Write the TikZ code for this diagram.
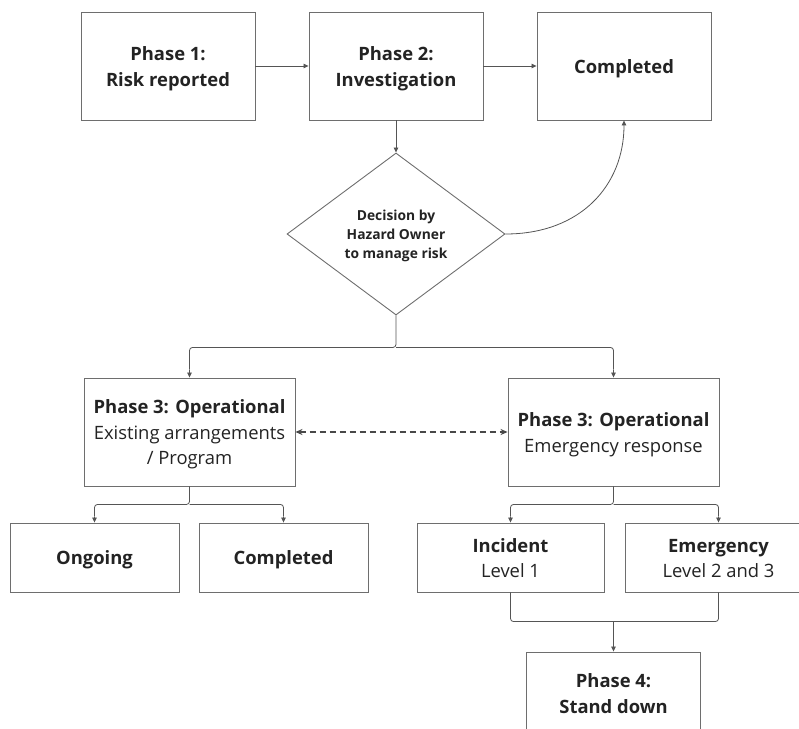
\documentclass[tikz,border=0pt]{standalone}
\usepackage{fontspec}
\setmainfont{Open Sans}
\usetikzlibrary{shapes.geometric,arrows.meta,calc}
\definecolor{boxline}{HTML}{6E6E6E}
\definecolor{conn}{HTML}{555555}
\definecolor{txt}{HTML}{232323}
\begin{document}
\begin{tikzpicture}[x=1pt,y=1pt,
  box/.style={draw=boxline,line width=0.9pt,rectangle,inner sep=0pt,text=txt,align=center,
    font=\fontsize{18.4}{25.5}\selectfont,text depth=0pt},
  oneline/.style={text height=14.6pt},
  twoline/.style={text height=40.1pt},
  threeline/.style={text height=65.6pt},
  bigbox/.style={box,minimum width=174pt,minimum height=108pt},
  opbox/.style={box,minimum width=211pt,minimum height=108pt},
  smallbox/.style={box,minimum height=69pt},
  conn/.style={draw=conn,line width=0.8pt,-{Triangle[length=5pt,width=4.5pt]}},
  junc/.style={draw=conn,line width=0.8pt,rounded corners=3pt},
]
\useasboundingbox (0,0) rectangle (799,-728);
\clip (0,0) rectangle (799,-728);

\node[bigbox,twoline] (p1) at (168,-66) {\textbf{Phase 1:}\\\textbf{Risk reported}};
\node[bigbox,twoline] (p2) at (396,-66) {\textbf{Phase 2:}\\\textbf{Investigation}};
\node[bigbox,oneline] (c1) at (624,-66) {\textbf{Completed}};

\node[diamond,draw=boxline,line width=0.9pt,inner sep=0pt,minimum width=218pt,minimum height=162pt,
  text=txt,align=center,font=\fontsize{13.8}{19}\selectfont\bfseries,
  text height=48pt,text depth=0pt] (dec) at (396,-234)
  {Decision by\\Hazard Owner\\to manage risk};

\node[opbox,threeline] (op1) at (189.5,-432) {\textbf{Phase 3: Operational}\\Existing arrangements\\/ Program};
\node[opbox,twoline] (op2) at (613.5,-432) {\textbf{Phase 3: Operational}\\Emergency response};

\node[smallbox,oneline,minimum width=169pt] (og) at (94.5,-557.5) {\textbf{Ongoing}};
\node[smallbox,oneline,minimum width=169pt] (c2) at (283.5,-557.5) {\textbf{Completed}};
\node[smallbox,twoline,minimum width=187pt] (inc) at (510.5,-557.5) {\textbf{Incident}\\Level 1};
\node[smallbox,twoline,minimum width=187pt] (emg) at (718.5,-557.5) {\textbf{Emergency}\\Level 2 and 3};

\node[bigbox,twoline,minimum height=82pt] (p4) at (613.5,-693) {\textbf{Phase 4:}\\\textbf{Stand down}};

% top row
\draw[conn] (p1.east) -- (p2.west);
\draw[conn] (p2.east) -- (c1.west);
\draw[conn] (p2.south) -- (dec.north);
\draw[conn] (dec.east) .. controls +(75,0) and +(0,-65) .. (c1.south);

% decision split
\coordinate (d1) at ($(dec.south)+(0,-32)$);
\draw[junc] (dec.south) -- (d1) -| ($(op1.north)+(0,8)$);
\draw[conn] ($(op1.north)+(0,8)$) -- (op1.north);
\draw[junc] (d1) -| ($(op2.north)+(0,8)$);
\draw[conn] ($(op2.north)+(0,8)$) -- (op2.north);

% dashed link
\draw[draw=conn!85!black,line width=1.3pt,dash pattern=on 6pt off 4pt,
  {Stealth[length=7pt,width=6pt]}-{Stealth[length=7pt,width=6pt]}] (op1.east) -- (op2.west);

% left split
\coordinate (l1) at ($(op1.south)+(0,-18)$);
\draw[junc] (op1.south) -- (l1) -| ($(og.north)+(0,6)$);
\draw[conn] ($(og.north)+(0,6)$) -- (og.north);
\draw[junc] (l1) -| ($(c2.north)+(0,6)$);
\draw[conn] ($(c2.north)+(0,6)$) -- (c2.north);

% right split
\coordinate (r1) at ($(op2.south)+(0,-18)$);
\draw[junc] (op2.south) -- (r1) -| ($(inc.north)+(0,6)$);
\draw[conn] ($(inc.north)+(0,6)$) -- (inc.north);
\draw[junc] (r1) -| ($(emg.north)+(0,6)$);
\draw[conn] ($(emg.north)+(0,6)$) -- (emg.north);

% merge
\coordinate (m1) at ($(p4.north)+(0,30)$);
\draw[junc] (inc.south) |- (m1) -| (emg.south);
\draw[conn] (m1) -- (p4.north);
\end{tikzpicture}
\end{document}
